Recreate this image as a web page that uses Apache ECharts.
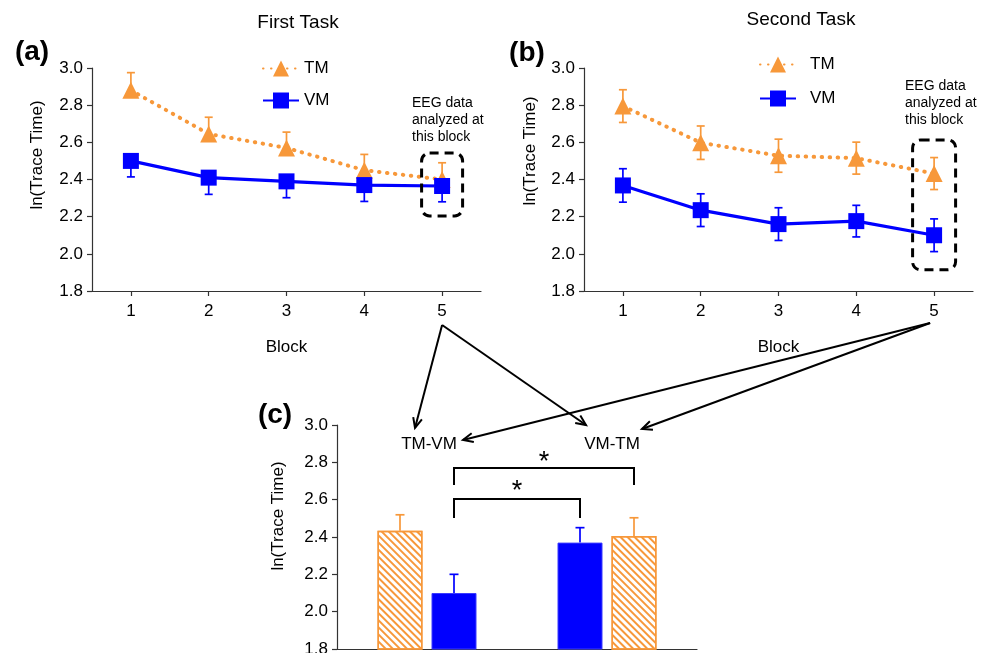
<!DOCTYPE html>
<html><head><meta charset="utf-8">
<script src="https://cdn.jsdelivr.net/npm/echarts@6/dist/echarts.min.js"></script>
<style>html,body{margin:0;padding:0;background:#fff}#c{width:989px;height:653px}</style>
</head><body><div id="c"></div>
<script>
// ---- data ----
const blocks = ['1', '2', '3', '4', '5'];
const tmFirst = [2.88, 2.645, 2.57, 2.45, 2.40];
const tmFirstErr = [0.095, 0.09, 0.085, 0.085, 0.09];
const vmFirst = [2.50, 2.41, 2.39, 2.37, 2.365];
const vmFirstErr = [0.086, 0.09, 0.088, 0.088, 0.085];
const tmSecond = [2.795, 2.598, 2.528, 2.515, 2.432];
const tmSecondErr = [0.088, 0.09, 0.089, 0.086, 0.086];
const vmSecond = [2.368, 2.235, 2.16, 2.176, 2.10];
const vmSecondErr = [0.09, 0.088, 0.088, 0.085, 0.088];
const orders = ['TM-VM', 'VM-TM'];
const groupOrder = [['TM', 'VM'], ['VM', 'TM']];
const barTM = [2.433, 2.405];
const barTMErr = [0.086, 0.098];
const barVM = [2.10, 2.37];
const barVMErr = [0.10, 0.08];
const yMin = 1.8, yMax = 3.0, yStep = 0.2;

// ---- styling ----
const ORANGE = '#F7983A', BLUE = '#0000FF', AX = '#333';
const FONT = 'Liberation Sans, Arial, sans-serif';
const chart = echarts.init(document.getElementById('c'), null, {renderer: 'canvas'});

function yAxisCfg(g) {
  return {
    type: 'value', gridIndex: g, min: yMin, max: yMax, interval: yStep,
    splitLine: {show: false},
    axisLine: {show: true, lineStyle: {color: AX, width: 1.2}},
    axisTick: {show: true, length: 5, lineStyle: {color: AX, width: 1.2}},
    axisLabel: {color: '#000', fontSize: 17, fontFamily: FONT, margin: 9, formatter: v => v.toFixed(1)}
  };
}
function xAxisCfg(g, data, showLabels) {
  return {
    type: 'category', gridIndex: g, data: data, boundaryGap: true,
    axisLine: {show: true, lineStyle: {color: AX, width: 1.2}},
    axisTick: {show: showLabels, alignWithLabel: true, length: 5, lineStyle: {color: AX, width: 1.2}},
    axisLabel: {show: showLabels, color: '#000', fontSize: 17, fontFamily: FONT, margin: 12},
    name: showLabels ? 'Block' : '', nameLocation: 'middle', nameGap: 48,
    nameTextStyle: {color: '#000', fontSize: 17, fontFamily: FONT}
  };
}
function errBars(ax, vals, errs, colorFor, up, down, offset, cap) {
  return {
    type: 'custom', xAxisIndex: ax, yAxisIndex: ax, z: 1, silent: true,
    data: vals.map((v, i) => [i, v, errs[i]]),
    renderItem(params, api) {
      const i = api.value(0), v = api.value(1), e = api.value(2);
      const c = colorFor(params.dataIndex);
      const p = api.coord([i, v]);
      const x = p[0] + offset;
      const style = {stroke: c, lineWidth: 1.7};
      const ch = [];
      const add = val => {
        const q = api.coord([i, val]);
        ch.push({type: 'line', shape: {x1: x, y1: p[1], x2: x, y2: q[1]}, style});
        ch.push({type: 'line', shape: {x1: x - cap, y1: q[1], x2: x + cap, y2: q[1]}, style});
      };
      if (up) add(v + e);
      if (down) add(v - e);
      return {type: 'group', children: ch};
    }
  };
}
function lineSeries(ax, name, vals) {
  const tm = name === 'TM';
  return {
    type: 'line', name, xAxisIndex: ax, yAxisIndex: ax, data: vals, z: 3,
    symbol: tm ? 'triangle' : 'rect', symbolSize: tm ? 17 : 16,
    itemStyle: {color: tm ? ORANGE : BLUE},
    lineStyle: tm ? {color: ORANGE, width: 4, type: [0.5, 7.5], cap: 'round'} : {color: BLUE, width: 3.2},
    animation: false
  };
}
const hatch = {
  color: '#fff', borderColor: ORANGE, borderWidth: 1.5,
  decal: {symbol: 'rect', color: ORANGE, dashArrayX: [1, 0], dashArrayY: [1.9, 2.3], rotation: Math.PI / 4}
};
const solid = {color: BLUE, borderColor: '#3a3aff', borderWidth: 1};
function barSlot(s) {
  return {
    type: 'bar', xAxisIndex: 2, yAxisIndex: 2, barWidth: 45, barGap: '20%', z: 2,
    data: orders.map((g, gi) => {
      const k = groupOrder[gi][s];
      return {value: k === 'TM' ? barTM[gi] : barVM[gi], itemStyle: k === 'TM' ? hatch : solid};
    }),
    animation: false
  };
}
function barErr(s) {
  const vals = orders.map((g, gi) => groupOrder[gi][s] === 'TM' ? barTM[gi] : barVM[gi]);
  const errs = orders.map((g, gi) => groupOrder[gi][s] === 'TM' ? barTMErr[gi] : barVMErr[gi]);
  return errBars(2, vals, errs, i => groupOrder[i][s] === 'TM' ? ORANGE : BLUE, true, false, s === 0 ? -27 : 27, 4.5);
}
const legendBase = {
  orient: 'vertical', data: ['TM', 'VM'], itemWidth: 36, itemHeight: 20, selectedMode: false, padding: 0,
  textStyle: {color: '#000', fontSize: 17, fontFamily: FONT}
};

const option = {
  animation: false,
  textStyle: {fontFamily: FONT},
  title: [
    {text: 'First Task', left: 293, top: 8, textAlign: 'center', textStyle: {fontSize: 19, fontWeight: 'normal', color: '#000', fontFamily: FONT}},
    {text: 'Second Task', left: 796, top: 5, textAlign: 'center', textStyle: {fontSize: 19, fontWeight: 'normal', color: '#000', fontFamily: FONT}}
  ],
  legend: [
    Object.assign({}, legendBase, {left: 262, top: 60, itemGap: 15}),
    Object.assign({}, legendBase, {left: 759, top: 56, itemGap: 17, textStyle: Object.assign({}, legendBase.textStyle, {padding: [0, 0, 0, 9]})})
  ],
  grid: [
    {left: 92, top: 68, width: 389, height: 223, outerBoundsMode: 'none'},
    {left: 584, top: 68, width: 389, height: 223, outerBoundsMode: 'none'},
    {left: 337, top: 425, width: 360, height: 224, outerBoundsMode: 'none'}
  ],
  xAxis: [xAxisCfg(0, blocks, true), xAxisCfg(1, blocks, true), xAxisCfg(2, orders, false)],
  yAxis: [yAxisCfg(0), yAxisCfg(1), yAxisCfg(2)],
  series: [
    errBars(0, tmFirst, tmFirstErr, () => ORANGE, true, false, 0, 4),
    errBars(0, vmFirst, vmFirstErr, () => BLUE, false, true, 0, 4),
    lineSeries(0, 'TM', tmFirst),
    lineSeries(0, 'VM', vmFirst),
    errBars(1, tmSecond, tmSecondErr, () => ORANGE, true, true, 0, 4),
    errBars(1, vmSecond, vmSecondErr, () => BLUE, true, true, 0, 4),
    lineSeries(1, 'TM', tmSecond),
    lineSeries(1, 'VM', vmSecond),
    barSlot(0), barSlot(1), barErr(0), barErr(1)
  ]
};
chart.setOption(option);

// ---- annotations ----
const px = (ax, x, y) => chart.convertToPixel({xAxisIndex: ax, yAxisIndex: ax}, [x, y]);
const G = [];
const txt = (x, y, text, font, align, extra) => G.push(Object.assign({
  type: 'text', x, y, style: {text, font, fill: '#000', textAlign: align || 'center', textVerticalAlign: 'middle'}
}, extra || {}));
const BL = k => 'bold ' + k + 'px ' + FONT, NL = k => k + 'px ' + FONT;

txt(32, 52, '(a)', BL(28));
txt(527, 53, '(b)', BL(28));
txt(275, 415, '(c)', BL(28));
txt(37, 155, 'ln(Trace Time)', NL(17), 'center', {rotation: Math.PI / 2});
txt(530, 151, 'ln(Trace Time)', NL(17), 'center', {rotation: Math.PI / 2});
txt(278, 516, 'ln(Trace Time)', NL(17), 'center', {rotation: Math.PI / 2});
['EEG data', 'analyzed at', 'this block'].forEach((t, i) => {
  txt(412, 103 + i * 17, t, NL(14), 'left');
  txt(905, 86 + i * 17, t, NL(14), 'left');
});

// dashed boxes around block 5
function box(ax, top, bottom, w) {
  const a = px(ax, 4, top), b = px(ax, 4, bottom);
  G.push({type: 'rect', shape: {x: a[0] - w / 2, y: a[1], width: w, height: b[1] - a[1], r: 8},
    style: {fill: 'rgba(0,0,0,0)', stroke: '#000', lineWidth: 3, lineDash: [9, 6]}, z: 10});
}
box(0, 2.543, 2.204, 41);
box(1, 2.613, 1.914, 43);

// category labels of panel (c)
const c0 = px(2, 0, 2.9)[0] + 2, c1 = px(2, 1, 2.9)[0] + 5;
txt(c0, 444, orders[0], NL(17));
txt(c1, 444, orders[1], NL(17));

// arrows
function arrow(x1, y1, x2, y2) {
  const th = Math.atan2(y2 - y1, x2 - x1), L = 11, ph = 0.42;
  const st = {stroke: '#000', lineWidth: 2, fill: null};
  G.push({type: 'line', shape: {x1, y1, x2, y2}, style: st});
  G.push({type: 'polyline', shape: {points: [
    [x2 - L * Math.cos(th - ph), y2 - L * Math.sin(th - ph)], [x2, y2],
    [x2 - L * Math.cos(th + ph), y2 - L * Math.sin(th + ph)]]}, style: st});
}
const sa = [px(0, 4, yMin)[0], px(0, 4, yMin)[1] + 34];
const sb = [px(1, 4, yMin)[0] - 4, px(1, 4, yMin)[1] + 32];
arrow(sa[0], sa[1], c0 - 14, 428);
arrow(sa[0], sa[1], c1 - 26, 425);
arrow(sb[0], sb[1], c0 + 34, 440);
arrow(sb[0], sb[1], c1 + 30, 429);

// significance brackets
function bracket(xA, xB, yTop, yLeg, yLeg2) {
  G.push({type: 'polyline', shape: {points: [[xA, yLeg], [xA, yTop], [xB, yTop], [xB, yLeg2]]},
    style: {stroke: '#000', lineWidth: 2, fill: null}});
}
const vm1x = px(2, 0, 2)[0] + 27, vm2x = px(2, 1, 2)[0] - 27, tm2x = px(2, 1, 2)[0] + 27;
bracket(vm1x, tm2x, 468, 485, 485);
bracket(vm1x, vm2x, 499, 518, 518);
txt((vm1x + tm2x) / 2, 463, '*', NL(27));
txt((vm1x + vm2x) / 2, 492, '*', NL(27));

chart.setOption({graphic: G});
</script></body></html>
